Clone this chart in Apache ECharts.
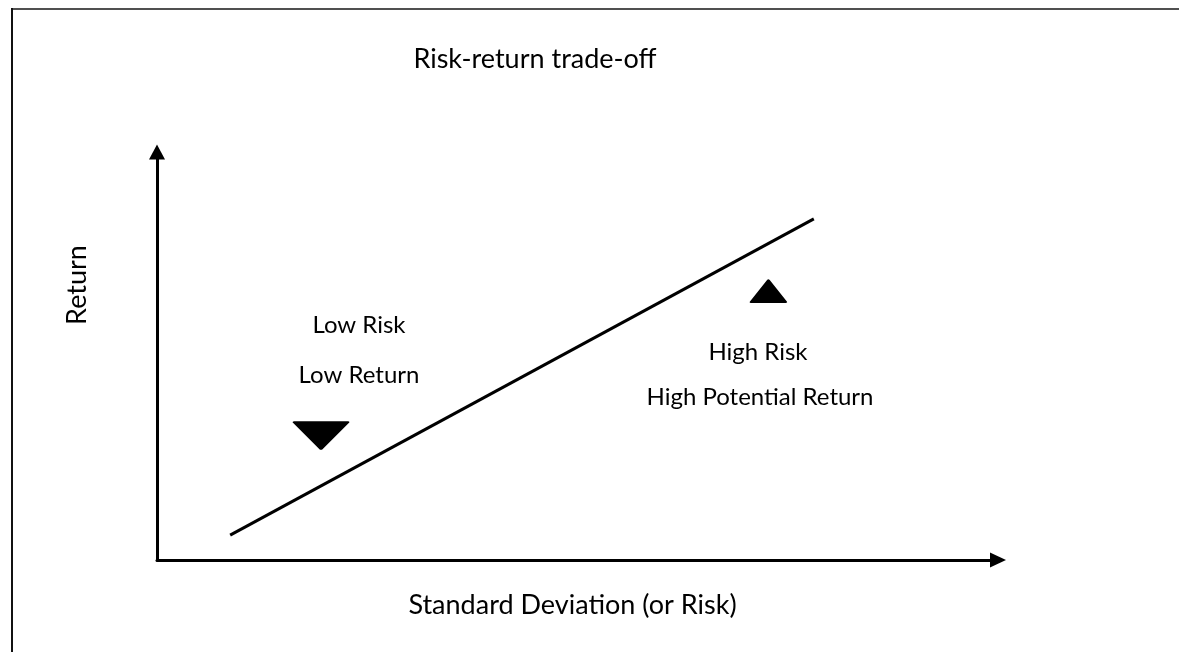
<!DOCTYPE html>
<html>
<head>
<meta charset="utf-8">
<script src="https://cdn.jsdelivr.net/npm/echarts@6/dist/echarts.min.js"></script>
<style>
html,body{margin:0;padding:0;background:#fff;}
#chart{width:1179px;height:652px;}
</style>
</head>
<body>
<div id="chart"></div>
<script>
// Data (relative units on 0..100 scales)
const titleText = 'Risk-return trade-off';
const xAxisName = 'Standard Deviation (or Risk)';
const yAxisName = 'Return';
const lineX = [8.7, 78.1];
const lineY = [6.1, 83.6];
const markerX = [19.5, 72.7];
const markerY = [30.5, 65.9];
const markerDir = ['down', 'up'];
const lowLabels = ['Low Risk', 'Low Return'];
const highLabels = ['High Risk', 'High Potential Return'];

const FONT = 'Lato';
const chart = echarts.init(document.getElementById('chart'), null, {renderer: 'canvas'});

const markerSizes = {down: [54, 27], up: [35, 22]};

const option = {
  backgroundColor: '#fff',
  animation: false,
  title: {
    text: titleText,
    left: 530, top: 41,
    textAlign: 'center',
    textStyle: {fontFamily: FONT, fontSize: 27, fontWeight: 'normal', color: '#000'}
  },
  grid: {left: 157, right: 181, top: 152, bottom: 92},
  xAxis: {
    type: 'value', min: 0, max: 100,
    name: xAxisName, nameLocation: 'middle', nameGap: 32,
    nameTextStyle: {fontFamily: FONT, fontSize: 27, color: '#000', padding: [0, 10, 0, 0]},
    axisLine: {show: true, symbol: ['none', 'triangle'], symbolSize: [15, 16],
      lineStyle: {color: '#000', width: 3}},
    axisTick: {show: false}, axisLabel: {show: false}, splitLine: {show: false}
  },
  yAxis: {
    type: 'value', min: 0, max: 100,
    axisLine: {show: true, symbol: ['none', 'triangle'], symbolSize: [16, 15],
      lineStyle: {color: '#000', width: 3}},
    axisTick: {show: false}, axisLabel: {show: false}, splitLine: {show: false}
  },
  graphic: [
    {type: 'line', shape: {x1: 12, y1: 9, x2: 1179, y2: 9}, style: {stroke: '#505050', lineWidth: 2}},
    {type: 'line', shape: {x1: 12, y1: 8, x2: 12, y2: 652}, style: {stroke: '#111', lineWidth: 2}},
    {type: 'text', x: 77, y: 285, rotation: Math.PI / 2,
      style: {text: yAxisName, fontFamily: FONT, fontSize: 27, fill: '#000', textAlign: 'center', textVerticalAlign: 'middle'}},
    {type: 'text', x: 359, y: 325,
      style: {text: lowLabels[0], fontFamily: FONT, fontSize: 24, fill: '#000', textAlign: 'center', textVerticalAlign: 'middle'}},
    {type: 'text', x: 359, y: 375,
      style: {text: lowLabels[1], fontFamily: FONT, fontSize: 24, fill: '#000', textAlign: 'center', textVerticalAlign: 'middle'}},
    {type: 'text', x: 758, y: 352,
      style: {text: highLabels[0], fontFamily: FONT, fontSize: 24, fill: '#000', textAlign: 'center', textVerticalAlign: 'middle'}},
    {type: 'text', x: 760, y: 397,
      style: {text: highLabels[1], fontFamily: FONT, fontSize: 24, fill: '#000', textAlign: 'center', textVerticalAlign: 'middle'}}
  ],
  series: [
    {
      type: 'line',
      data: lineX.map((x, i) => [x, lineY[i]]),
      symbol: 'none',
      lineStyle: {color: '#000', width: 3},
      silent: true
    },
    {
      type: 'scatter',
      data: markerX.map((x, i) => ({
        value: [x, markerY[i]],
        symbolSize: markerSizes[markerDir[i]],
        symbolRotate: markerDir[i] === 'down' ? 180 : 0
      })),
      symbol: 'triangle',
      itemStyle: {color: '#000', borderColor: '#000', borderWidth: 2, borderJoin: 'round', opacity: 1},
      silent: true
    }
  ]
};
chart.setOption(option);
</script>
</body>
</html>
